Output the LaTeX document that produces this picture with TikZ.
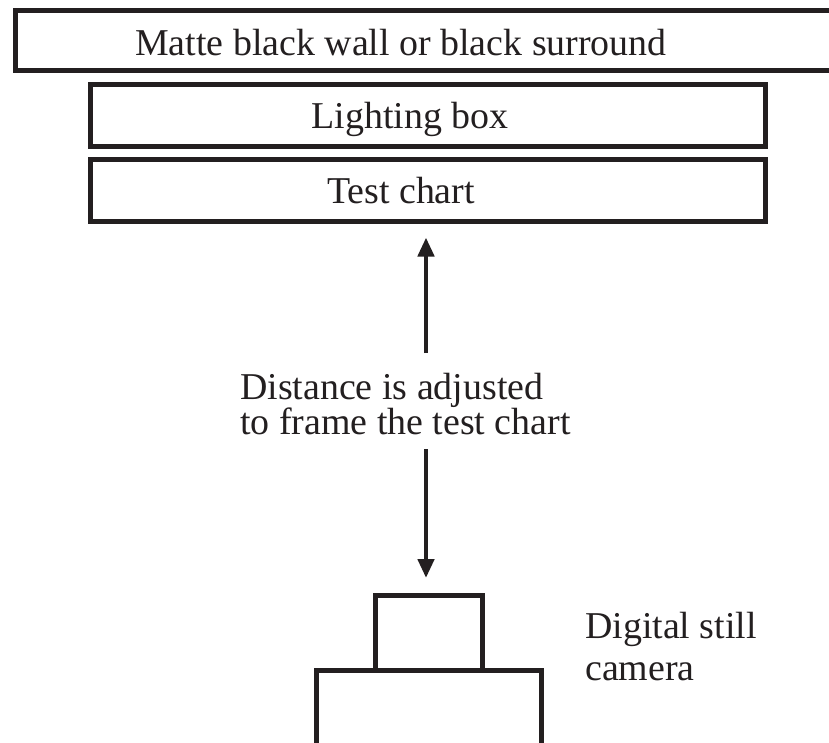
\documentclass[tikz,border=0pt]{standalone}
\usepackage{fontspec}
\setmainfont{Liberation Serif}
\usetikzlibrary{arrows.meta}
\definecolor{ink}{RGB}{35,31,32}
\tikzset{
  box/.style={draw=ink, line width=4.5pt, rectangle, inner sep=0pt},
  lbl/.style={inner sep=0pt, text=ink, font=\fontsize{37.9pt}{35pt}\selectfont},
  arr/.style={draw=ink, line width=4.5pt, -{Triangle[width=16pt,length=19pt]}}
}
\begin{document}
\begin{tikzpicture}[x=1pt,y=-1pt]
\clip (0,0) rectangle (829,742);
\fill[white] (0,0) rectangle (829,742);
% boxes
\node[box, minimum width=860pt, minimum height=60pt, anchor=north west] (wall) at (13,8) {};
\node[box, minimum width=675pt, minimum height=62pt, anchor=north west] (light) at (88,82) {};
\node[box, minimum width=675pt, minimum height=62pt, anchor=north west] (tc) at (88,157) {};
\node[box, minimum width=107pt, minimum height=75pt, anchor=north west] (camtop) at (373,593) {};
\node[box, minimum width=225pt, minimum height=100pt, anchor=north west] (cambody) at (314,668) {};
% labels
\node[lbl, anchor=base west] (walltext) at (135,55) {Matte black wall or black surround};
\node[lbl, anchor=base] (lighttext) at (410,128) {Lighting box};
\node[lbl, anchor=base] (tctext) at (401,203) {Test chart};
\node[lbl, anchor=base west, align=left] (dist) at (240,434) {Distance is adjusted\\to frame the test chart};
\node[lbl, anchor=base west, align=left, font=\fontsize{37.9pt}{42pt}\selectfont] (camtext) at (585,680) {Digital still\\camera};
% arrows
\coordinate (upS) at (426,353);
\coordinate (dnS) at (426,449);
\draw[arr, shorten >=14pt] (upS) -- (tc.south -| upS);
\draw[arr, shorten >=15pt] (dnS) -- (camtop.north -| dnS);
\end{tikzpicture}
\end{document}
